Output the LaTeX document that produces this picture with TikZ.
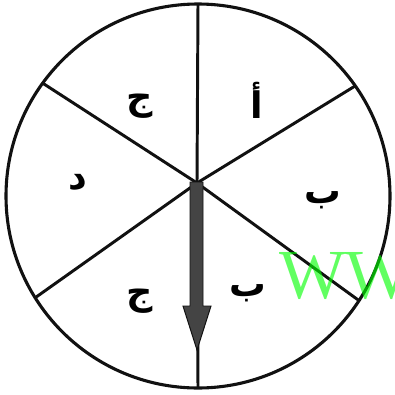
\documentclass[tikz,border=0pt]{standalone}
\usepackage{fontspec}
\usetikzlibrary{calc}
\usepackage{xcolor}
\TeXXeTstate=1
\newfontfamily\arabicfont[Script=Arabic]{DejaVu Sans}
\newfontfamily\stampfont{Liberation Serif}
\definecolor{Ink}{HTML}{111111}
\definecolor{Pointer}{HTML}{444444}
\definecolor{Stamp}{HTML}{00FF00}
\newcommand{\SecLabel}[4]{%
  \node[font=\arabicfont\bfseries\fontsize{26}{26}\selectfont,inner sep=0pt] (#1) at (#2,#3) {\beginR #4\endR};%
}

\begin{document}
\begin{tikzpicture}[x=0.025cm,y=-0.025cm]
\useasboundingbox (0,0) rectangle (395,395);
\coordinate (c) at (198,196);
\coordinate (hub) at (197,183);
\draw[Ink,line width=2.2pt] (c) circle[radius=192];
\foreach \a in {-90,-35,33,90,148,216} {
  \draw[Ink,line width=2.1pt] (hub) -- ($(c)+(\a:192)$);
}
\filldraw[fill=Pointer,draw=Ink,line width=0.7pt]
  (190,182) -- (203,182) -- (203,306) -- (211,306) -- (197,350)
  -- (183,306) -- (190,306) -- cycle;
\SecLabel{alif}{257}{100}{أ}
\SecLabel{jimtop}{140}{106}{ج}
\SecLabel{dal}{78}{182}{د}
\SecLabel{baright}{323}{200}{ب}
\SecLabel{balow}{248}{293}{ب}
\SecLabel{jimlow}{140}{301}{ج}
\begin{scope}
\clip (0,0) rectangle (395,395);
\node[anchor=base west,inner sep=0pt,text=Stamp,text opacity=0.62,
  font=\stampfont\fontsize{50}{50}\selectfont] (stamp) at (279,298) {WW};
\end{scope}
\end{tikzpicture}
\end{document}
